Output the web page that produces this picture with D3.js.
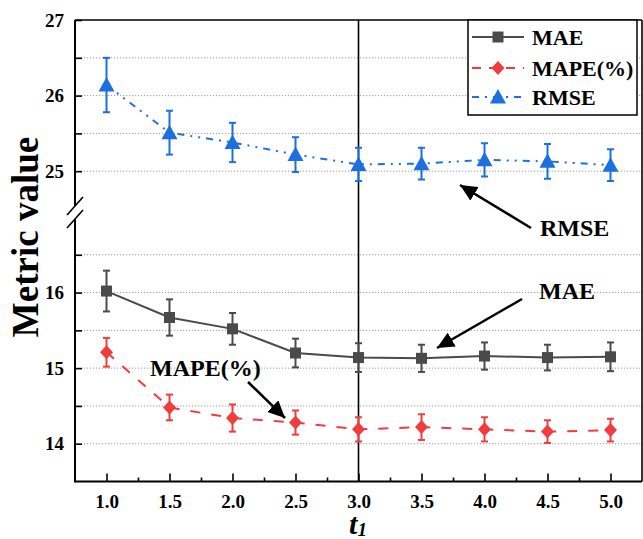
<!DOCTYPE html>
<html>
<head>
<meta charset="utf-8">
<script src="https://cdn.jsdelivr.net/npm/d3@7"></script>
<style>
  html, body { margin: 0; padding: 0; background: #fff; }
  svg { display: block; }
  text { font-family: "Liberation Serif", "Times New Roman", serif; font-weight: bold; fill: #000; }
</style>
</head>
<body>
<svg id="chart" width="643" height="539"></svg>
<script>
// ---- data ----
const tValues = [1.0, 1.5, 2.0, 2.5, 3.0, 3.5, 4.0, 4.5, 5.0];
const maeValues = [16.02, 15.67, 15.52, 15.20, 15.14, 15.13, 15.16, 15.14, 15.15];
const maeErrors = [0.27, 0.24, 0.21, 0.19, 0.19, 0.18, 0.18, 0.17, 0.19];
const mapeValues = [15.21, 14.48, 14.34, 14.28, 14.19, 14.22, 14.19, 14.16, 14.18];
const mapeErrors = [0.19, 0.17, 0.18, 0.16, 0.16, 0.17, 0.16, 0.15, 0.15];
const rmseValues = [26.14, 25.51, 25.38, 25.22, 25.09, 25.10, 25.15, 25.13, 25.08];
const rmseErrors = [0.36, 0.29, 0.26, 0.23, 0.22, 0.21, 0.22, 0.23, 0.21];
const xTickLabels = [1.0, 1.5, 2.0, 2.5, 3.0, 3.5, 4.0, 4.5, 5.0];
const xMinorTicks = [1.25, 1.75, 2.25, 2.75, 3.25, 3.75, 4.25, 4.75];
const yLowTicks = [14, 14.5, 15, 15.5, 16, 16.5];
const yHighTicks = [25, 25.5, 26, 26.5, 27];
const yLowLabels = [14, 15, 16];
const yHighLabels = [25, 26, 27];
const seriesNames = ["MAE", "MAPE(%)", "RMSE"];
const markedT = 3.0;

// ---- layout ----
const FONT = '"Liberation Serif", "Times New Roman", serif';
const L = 75, R = 642, T = 20, B = 481.5;
const svg = d3.select("#chart");

const x = d3.scaleLinear().domain([0.75, 5.25]).range([L, R]);
const yLow = d3.scaleLinear().domain([13.5, 17]).range([B, 217]);
const yHigh = d3.scaleLinear().domain([24.5, 27]).range([209, T]);
const y = v => (v > 20 ? yHigh(v) : yLow(v));

const series = [
  { name: seriesNames[0], vals: maeValues, errs: maeErrors, color: "#4a4a4a", dash: null, marker: "square" },
  { name: seriesNames[1], vals: mapeValues, errs: mapeErrors, color: "#f03c3c", dash: "10,11", marker: "diamond" },
  { name: seriesNames[2], vals: rmseValues, errs: rmseErrors, color: "#1c6fde", dash: "7,6,2,6,2,6", marker: "triangle" }
];

const markerPath = {
  square: "M-5.5,-5.5H5.5V5.5H-5.5Z",
  diamond: "M0,-7L6.5,0L0,7L-6.5,0Z",
  triangle: "M0,-8L8,6.5L-8,6.5Z"
};

// ---- grid ----
const grid = svg.append("g");
yLowTicks.concat(yHighTicks.filter(v => v < 27)).forEach(v => {
  grid.append("line")
    .attr("x1", L).attr("x2", R).attr("y1", y(v)).attr("y2", y(v))
    .attr("stroke", "#9a9a9a").attr("stroke-width", 1).attr("stroke-dasharray", "1.2,1.8");
});

// ---- axes (ticks & labels) ----
function styleAxis(g) {
  g.attr("font-family", FONT).attr("font-size", 19);
  g.select(".domain").remove();
  g.selectAll(".tick line").attr("stroke", "#000").attr("stroke-width", 1.6);
  g.selectAll(".tick text")
    .style("font-family", FONT).style("font-size", "19px").style("font-weight", "bold")
    .attr("fill", "#000");
}
svg.append("g").attr("transform", `translate(0,${B})`)
  .call(d3.axisBottom(x).tickValues(xTickLabels).tickSizeInner(-8).tickSizeOuter(0)
    .tickPadding(13).tickFormat(d3.format(".1f")))
  .call(styleAxis);
svg.append("g").attr("transform", `translate(0,${B})`)
  .call(d3.axisBottom(x).tickValues(xMinorTicks).tickSizeInner(-4).tickSizeOuter(0).tickFormat(""))
  .call(styleAxis);
svg.append("g").attr("transform", `translate(${L},0)`)
  .call(d3.axisLeft(yLow).tickValues(yLowTicks).tickSizeInner(-7).tickSizeOuter(0).tickPadding(11)
    .tickFormat(d => yLowLabels.includes(d) ? d3.format("d")(d) : ""))
  .call(styleAxis);
svg.append("g").attr("transform", `translate(${L},0)`)
  .call(d3.axisLeft(yHigh).tickValues(yHighTicks).tickSizeInner(-7).tickSizeOuter(0).tickPadding(11)
    .tickFormat(d => yHighLabels.includes(d) ? d3.format("d")(d) : ""))
  .call(styleAxis);

// ---- vertical marker line ----
svg.append("line")
  .attr("x1", x(markedT)).attr("x2", x(markedT)).attr("y1", T).attr("y2", B)
  .attr("stroke", "#000").attr("stroke-width", 1.6);

// ---- series ----
series.forEach(s => {
  const pts = tValues.map((t, i) => ({ t, v: s.vals[i], e: s.errs[i] }));
  const g = svg.append("g");
  g.append("path")
    .attr("d", d3.line().x(d => x(d.t)).y(d => y(d.v))(pts))
    .attr("fill", "none").attr("stroke", s.color).attr("stroke-width", 2)
    .attr("stroke-dasharray", s.dash);
  const eb = g.selectAll(".eb").data(pts).enter().append("g");
  eb.append("line")
    .attr("x1", d => x(d.t)).attr("x2", d => x(d.t))
    .attr("y1", d => y(d.v - d.e)).attr("y2", d => y(d.v + d.e))
    .attr("stroke", s.color).attr("stroke-width", 2);
  [-1, 1].forEach(k => {
    eb.append("line")
      .attr("x1", d => x(d.t) - 3.5).attr("x2", d => x(d.t) + 3.5)
      .attr("y1", d => y(d.v + k * d.e)).attr("y2", d => y(d.v + k * d.e))
      .attr("stroke", s.color).attr("stroke-width", 2);
  });
  g.selectAll(".mk").data(pts).enter().append("path")
    .attr("d", markerPath[s.marker])
    .attr("transform", d => `translate(${x(d.t)},${y(d.v)})`)
    .attr("fill", s.color);
});

// ---- frame with axis break ----
const frame = svg.append("g").attr("stroke", "#000").attr("fill", "none");
frame.append("line").attr("x1", L).attr("x2", R).attr("y1", B).attr("y2", B).attr("stroke-width", 2);
frame.append("line").attr("x1", L).attr("x2", R).attr("y1", T).attr("y2", T).attr("stroke-width", 1.6);
frame.append("line").attr("x1", R).attr("x2", R).attr("y1", T).attr("y2", B).attr("stroke-width", 1.6);
frame.append("line").attr("x1", L).attr("x2", L).attr("y1", T).attr("y2", 206).attr("stroke-width", 2);
frame.append("line").attr("x1", L).attr("x2", L).attr("y1", 219).attr("y2", B + 1).attr("stroke-width", 2);
[206, 219].forEach(cy => {
  frame.append("line").attr("x1", L - 8).attr("y1", cy + 9).attr("x2", L + 8).attr("y2", cy - 9)
    .attr("stroke-width", 1.6);
});

// ---- axis titles ----
svg.append("text")
  .attr("transform", "translate(38,237) rotate(-90)")
  .attr("text-anchor", "middle").style("font-size", "37px")
  .text("Metric value");
const xt = svg.append("text").attr("x", 358).attr("y", 534).attr("text-anchor", "middle")
  .style("font-size", "30px").style("font-style", "italic");
xt.append("tspan").text("t");
xt.append("tspan").attr("dy", 2).style("font-size", "19px").text("1");

// ---- legend ----
const lg = svg.append("g");
lg.append("rect").attr("x", 468).attr("y", 20).attr("width", 169).attr("height", 95)
  .attr("fill", "#fff").attr("stroke", "#000").attr("stroke-width", 1.5);
const legendY = [37, 68, 97];
series.forEach((s, i) => {
  const cy = legendY[i];
  lg.append("line").attr("x1", 472).attr("x2", 524).attr("y1", cy).attr("y2", cy)
    .attr("stroke", s.color).attr("stroke-width", 2)
    .attr("stroke-dasharray", s.dash ? (i === 1 ? "9,8" : "7,6,2,6") : null);
  lg.append("path").attr("d", markerPath[s.marker])
    .attr("transform", `translate(498,${cy})`).attr("fill", s.color);
  lg.append("text").attr("x", 532).attr("y", cy + 7.5).style("font-size", "22px").text(s.name);
});

// ---- annotations ----
svg.append("defs").append("marker")
  .attr("id", "ah").attr("viewBox", "0 0 17 16").attr("refX", 17).attr("refY", 8)
  .attr("markerWidth", 17).attr("markerHeight", 16).attr("markerUnits", "userSpaceOnUse")
  .attr("orient", "auto")
  .append("path").attr("d", "M0,0L17,8L0,16Z").attr("fill", "#000");
const notes = [
  { label: "RMSE", tx: 540, ty: 236, from: [531, 228], to: [460, 185] },
  { label: "MAE", tx: 539, ty: 299, from: [522, 299], to: [437, 348] },
  { label: "MAPE(%)", tx: 150, ty: 376, from: [248, 382], to: [285, 418] }
];
notes.forEach(n => {
  svg.append("text").attr("x", n.tx).attr("y", n.ty).style("font-size", "24px").text(n.label);
  svg.append("line").attr("x1", n.from[0]).attr("y1", n.from[1]).attr("x2", n.to[0]).attr("y2", n.to[1])
    .attr("stroke", "#000").attr("stroke-width", 2.5).attr("marker-end", "url(#ah)");
});
</script>
</body>
</html>
